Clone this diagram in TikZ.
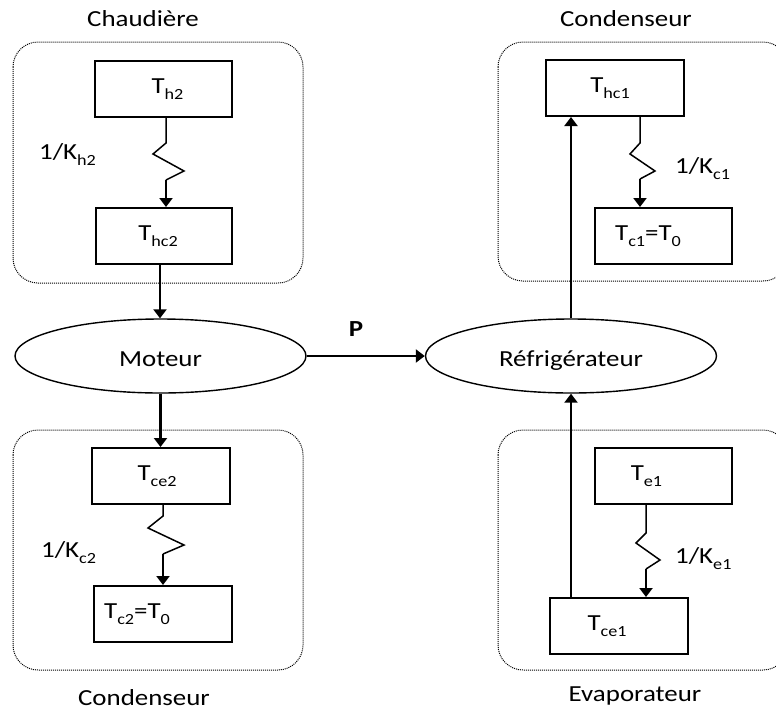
\documentclass[tikz,border=0pt]{standalone}
\usepackage{fontspec}
\setmainfont{Carlito}[FakeStretch=1.17]
\usetikzlibrary{arrows.meta,shapes.geometric}
% lowered, smaller index text
\newcommand\sbs[1]{\raisebox{-6.5pt}{\fontsize{15.5}{15.5}\selectfont #1}}

\begin{document}
\begin{tikzpicture}[x=1pt,y=-1pt,
  every node/.style={font=\fontsize{23}{27}\selectfont, inner sep=0pt},
  tbox/.style={draw, line width=2pt, minimum width=137pt, minimum height=56pt},
  oval/.style={ellipse, draw, line width=1.4pt, minimum width=291pt, minimum height=74pt,
               text height=21pt, text depth=0pt},
  zone/.style={draw, densely dotted, line width=1pt, rounded corners=25pt},
  flow/.style={line width=2.2pt, -{Triangle[length=9pt,width=13pt]}},
  res/.style={line width=1.5pt, line join=miter},
  title/.style={anchor=base},
  rlabel/.style={anchor=base west}
]
\clip (0,0) rectangle (776,710);

% dotted zones of the four heat exchangers
\draw[zone] (13,42) rectangle (303,283);
\draw[zone] (498,42) rectangle (788,281);
\draw[zone] (13,430) rectangle (303,670);
\draw[zone] (498,430) rectangle (788,670);

% zone titles
\node[title] (chaud) at (143,26.7) {Chaudière};
\node[title] (condh) at (626,26.7) {Condenseur};
\node[title] (condb) at (144,705) {Condenseur};
\node[title] (evap)  at (635,701.7) {Evaporateur};

% temperature boxes
\node[tbox] (th2)  at (163.5,89)  {\hspace*{8pt}T\sbs{h2}};
\node[tbox, minimum width=136pt] (thc2) at (164,236) {T\sbs{hc2}\hspace*{12pt}};
\node[tbox, minimum width=138pt] (tce2) at (161,476) {T\sbs{ce2}\hspace*{8pt}};
\node[tbox, minimum width=138pt] (tc2)  at (163,614) {T\sbs{c2}=T\sbs{0}\hspace*{52pt}};
\node[tbox, minimum width=138pt] (thc1) at (615,88)  {T\sbs{hc1}\hspace*{10pt}};
\node[tbox] (tc1)  at (663.5,236) {T\sbs{c1}=T\sbs{0}\hspace*{31pt}};
\node[tbox] (te1)  at (663.5,476) {T\sbs{e1}\hspace*{34pt}};
\node[tbox, minimum width=138pt] (tce1) at (619,626) {T\sbs{ce1}\hspace*{24pt}};

% engine and refrigerator
\node[oval] (moteur) at (160.5,356) {Moteur};
\node[oval] (refrig) at (571,356) {Réfrigérateur};

% thermal resistances
\node[rlabel] (kh2) at (39,159)  {1/K\sbs{h2}};
\node[rlabel] (kc1) at (675,173) {1/K\sbs{c1}};
\node[rlabel] (kc2) at (41,557)  {1/K\sbs{c2}};
\node[rlabel] (ke1) at (675,563) {1/K\sbs{e1}};

\draw[res] (166,0 |- th2.south) -- ++(0,25) -- ++(-13,11) -- ++(31,17) -- ++(-18,9) coordinate (zh2);
\draw[flow] (zh2) -- (zh2 |- thc2.north);

\draw[res] (640,0 |- thc1.south) -- ++(0,26) -- ++(-10,11) -- ++(25,17) -- ++(-15,8) coordinate (zc1);
\draw[flow] (zc1) -- (zc1 |- tc1.north);

\draw[res] (163,0 |- tce2.south) -- ++(0,11) -- ++(-15,12) -- ++(36,17) -- ++(-21,9) coordinate (zc2);
\draw[flow] (zc2) -- (zc2 |- tc2.north);

\draw[res] (646,0 |- te1.south) -- ++(0,28) -- ++(-10,10) -- ++(24,17) -- ++(-14,9) coordinate (ze1);
\draw[flow] (ze1) -- (ze1 |- tce1.north);

% heat and work flows
\draw[flow] (160,0 |- thc2.south) -- (160,0 |- moteur.north);
\draw[flow] (moteur.south) -- (moteur.south |- tce2.north);
\draw[flow] (moteur.east) -- (refrig.west);
\node[font=\fontsize{23}{27}\selectfont\bfseries] (p) at (356,329) {P};
\draw[flow] (refrig.north) -- (refrig.north |- thc1.south);
\draw[flow] (571,0 |- tce1.north) -- (refrig.south);
\end{tikzpicture}
\end{document}
